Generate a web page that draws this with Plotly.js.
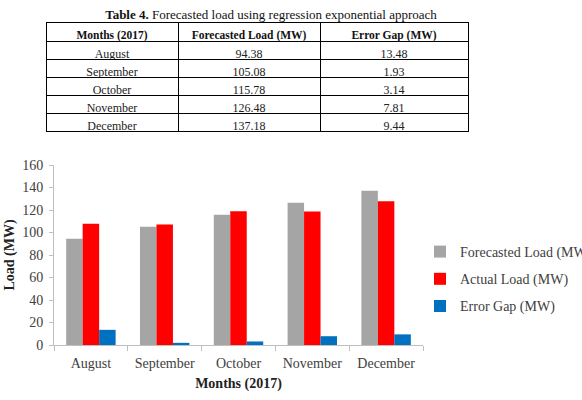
<!DOCTYPE html>
<html>
<head>
<meta charset="utf-8">
<script src="https://cdn.plot.ly/plotly-3.0.1.min.js"></script>
<style>html,body{margin:0;padding:0;background:#fff;}#chart{width:582px;height:400px;}</style>
</head>
<body>
<div id="chart"></div>
<script>
const months = ["August", "September", "October", "November", "December"];
const forecasted = [94.38, 105.08, 115.78, 126.48, 137.18];
const actual = [107.86, 107.01, 118.92, 118.67, 127.74];
const errorGap = [13.48, 1.93, 3.14, 7.81, 9.44];
const forecastedText = ["94.38", "105.08", "115.78", "126.48", "137.18"];
const errorText = ["13.48", "1.93", "3.14", "7.81", "9.44"];
const tableHeaders = ["Months (2017)", "Forecasted Load (MW)", "Error Gap (MW)"];
const seriesNames = ["Forecasted Load (MW)", "Actual Load (MW)", "Error Gap (MW)"];
const yTicks = [0, 20, 40, 60, 80, 100, 120, 140, 160];

const serif = "Liberation Serif, Times New Roman, serif";
const txt = "#404040";

const data = [
  {
    type: "table",
    domain: {x: [46/582, 468/582], y: [1 - 148/400, 1 - 22/400]},
    columnwidth: [132, 142, 148],
    header: {
      values: tableHeaders,
      align: "center",
      height: 19,
      line: {color: "#000", width: 1},
      fill: {color: "#fff"},
      font: {family: serif, size: 11.5, color: "#111", weight: "bold"}
    },
    cells: {
      values: [months, forecastedText, errorText],
      align: "center",
      height: 18,
      line: {color: "#000", width: 1},
      fill: {color: "#fff"},
      font: {family: serif, size: 12, color: "#222"}
    }
  },
  {type: "bar", name: seriesNames[0], legendgroup: "a", x: months, y: forecasted, marker: {color: "#A5A5A5"}, xaxis: "x", yaxis: "y"},
  {type: "bar", name: seriesNames[1], legendgroup: "b", x: months, y: actual, marker: {color: "#FF0000"}, xaxis: "x", yaxis: "y"},
  {type: "bar", name: seriesNames[2], legendgroup: "c", x: months, y: errorGap, marker: {color: "#0070C0"}, xaxis: "x", yaxis: "y"}
];

const layout = {
  width: 582, height: 400,
  margin: {l: 0, r: 0, t: 0, b: 0, autoexpand: false},
  paper_bgcolor: "#fff", plot_bgcolor: "#fff",
  font: {family: serif, size: 14, color: txt},
  title: {
    text: "<b>Table 4.</b> Forecasted load using regression exponential approach",
    font: {family: serif, size: 13, color: "#111"},
    x: 271/582, xanchor: "center", xref: "paper",
    y: 1 - 14/400, yanchor: "middle", yref: "paper"
  },
  barmode: "group", bargap: 0.33, bargroupgap: 0,
  xaxis: {
    domain: [54/582, 423/582],
    showline: true, linecolor: "#BFBFBF", linewidth: 1,
    ticks: "outside", tickson: "boundaries", ticklen: 5, tickcolor: "#BFBFBF",
    ticklabelstandoff: 5,
    showgrid: false, zeroline: false,
    tickfont: {family: serif, size: 14, color: txt},
    title: {text: "<b>Months (2017)</b>", font: {family: serif, size: 14, color: "#222"}, standoff: 8},
    automargin: false
  },
  yaxis: {
    domain: [1 - 345/400, 1 - 165/400],
    range: [0, 160], tickvals: yTicks,
    showline: true, linecolor: "#BFBFBF", linewidth: 1,
    ticks: "outside", ticklen: 4, tickcolor: "#BFBFBF",
    ticklabelstandoff: 3,
    showgrid: false, zeroline: false,
    tickfont: {family: serif, size: 14, color: txt},
    title: {text: "<b>Load (MW)</b>", font: {family: serif, size: 14, color: "#222"}, standoff: 4},
    automargin: false
  },
  showlegend: true,
  legend: {
    x: 420/582, xanchor: "left", y: 1 - 279/400, yanchor: "middle",
    font: {family: serif, size: 14, color: txt},
    bgcolor: "rgba(0,0,0,0)",
    tracegroupgap: 6, itemwidth: 30
  }
};

Plotly.newPlot("chart", data, layout, {displayModeBar: false, staticPlot: true});
</script>
</body>
</html>
